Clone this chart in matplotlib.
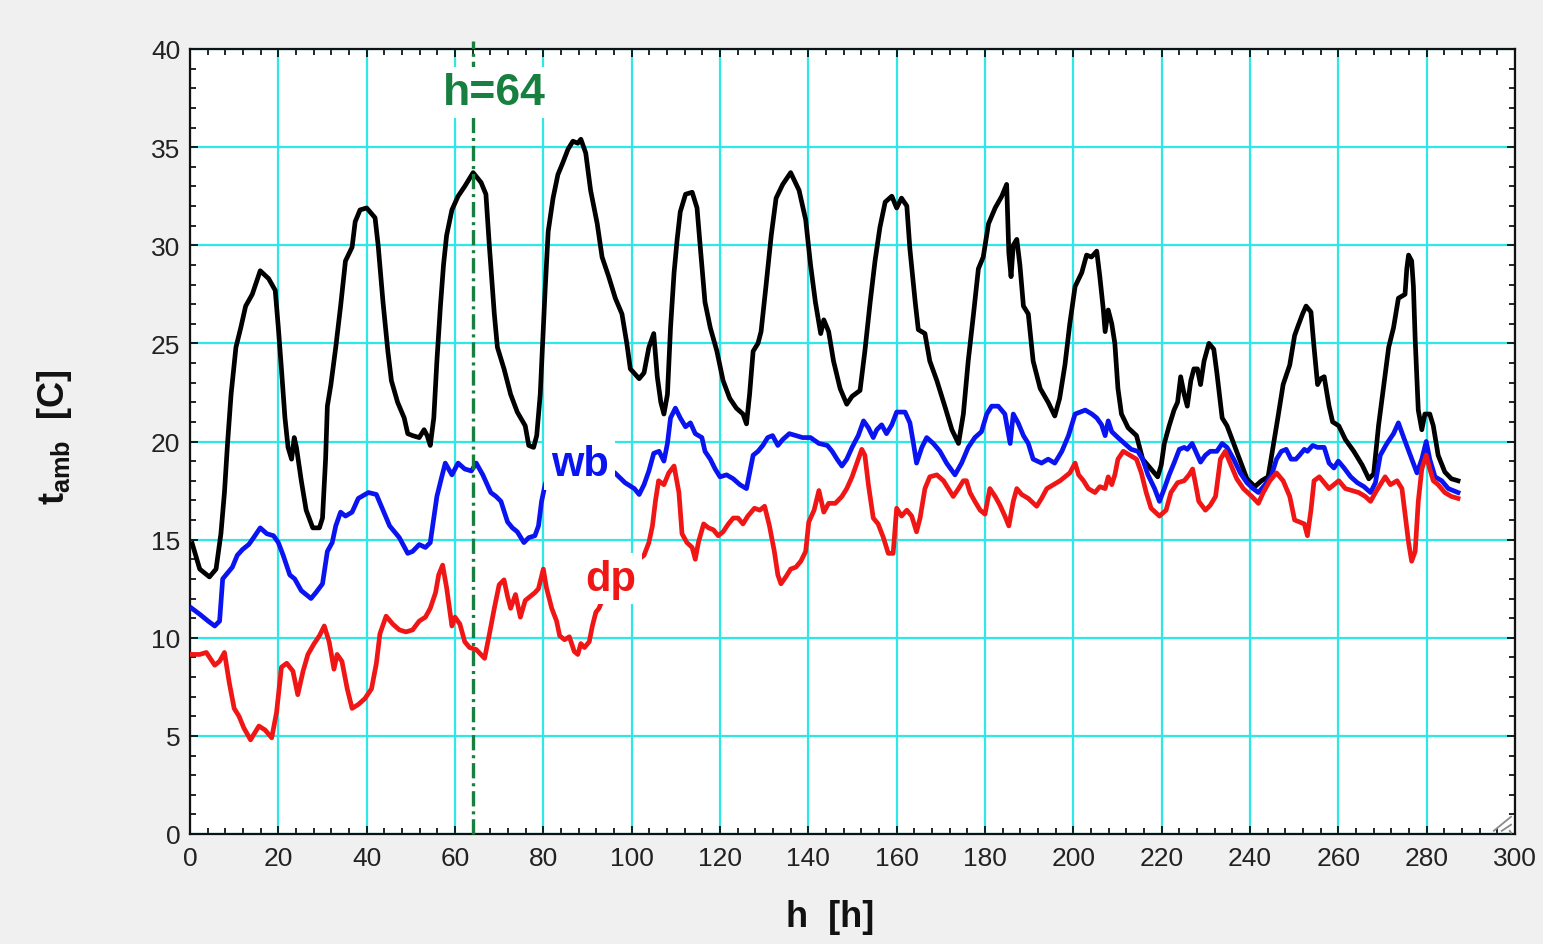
import matplotlib
matplotlib.use("Agg")
import matplotlib.pyplot as plt
import numpy as np

plt.rcParams['font.family'] = ['Liberation Sans', 'DejaVu Sans']
plt.rcParams['mathtext.fontset'] = 'custom'
plt.rcParams['mathtext.bf'] = 'Liberation Sans:bold'
plt.rcParams['mathtext.rm'] = 'Liberation Sans:bold'
plt.rcParams['lines.scale_dashes'] = False

# ---------------- data ----------------
h_db = [0.5, 2.2, 4.4, 5.9, 7.0, 7.8, 8.5, 9.3, 10.4, 11.5, 12.6, 14.1, 15.9, 17.8, 19.3, 20.0, 20.7, 21.5,
        22.2, 23.0, 23.6, 24.1, 25.2, 26.3, 27.8, 29.3, 30.0, 30.7, 31.1, 31.9, 33.0, 34.1, 35.2, 36.7, 37.4,
        38.5, 40.0, 41.9, 42.6, 43.7, 44.8, 45.6, 47.0, 48.5, 49.3, 50.4, 51.9, 53.0, 53.7, 54.4, 55.2, 55.9,
        56.7, 57.4, 58.1, 59.3, 60.7, 62.2, 64.1, 65.9, 67.0, 67.8, 68.9, 69.6, 71.1, 72.6, 74.1, 75.9, 76.7,
        77.8, 78.5, 79.3, 80.0, 80.4, 81.1, 82.2, 83.3, 84.4, 85.6, 86.7, 87.8, 88.5, 89.6, 90.7, 92.2, 93.3,
        94.8, 96.3, 97.8, 98.9, 99.7, 101.7, 102.8, 103.9, 105.0, 105.8, 106.6, 107.3, 108.1, 108.8, 109.6,
        110.3, 111.0, 112.2, 113.7, 114.8, 115.5, 116.6, 117.8, 119.3, 120.7, 122.2, 123.7, 125.2, 126.0,
        126.7, 127.5, 128.6, 129.3, 130.4, 131.6, 132.7, 134.2, 136.0, 137.9, 139.4, 140.5, 141.6, 142.8,
        143.5, 144.6, 145.7, 147.2, 148.7, 149.9, 151.7, 152.8, 154.0, 155.1, 156.2, 157.4, 158.9, 160.0,
        161.1, 162.3, 163.0, 164.2, 164.9, 166.4, 167.5, 169.1, 170.9, 172.5, 174.0, 175.1, 176.2, 177.4,
        178.5, 179.6, 180.8, 182.3, 183.8, 184.9, 185.4, 185.9, 186.4, 187.2, 187.9, 188.7, 189.8, 190.9,
        192.5, 194.3, 195.8, 196.9, 198.1, 199.2, 200.4, 201.9, 203.0, 204.1, 205.3, 206.0, 206.8, 207.2,
        207.9, 208.7, 209.4, 210.1, 210.9, 212.4, 214.3, 215.7, 217.2, 219.1, 219.9, 220.6, 221.7, 222.8,
        223.6, 224.3, 225.1, 225.8, 226.6, 227.3, 228.1, 228.8, 229.6, 230.7, 231.8, 232.5, 233.7, 234.8,
        236.3, 237.8, 239.3, 241.1, 242.6, 244.1, 245.2, 246.3, 247.5, 249.0, 250.1, 250.9, 251.9, 252.7,
        253.8, 254.5, 255.3, 256.0, 256.8, 257.9, 258.7, 260.1, 261.6, 263.5, 265.4, 266.9, 268.0, 269.1,
        270.3, 271.4, 272.5, 273.6, 275.1, 275.5, 275.9, 276.6, 277.0, 277.4, 278.1, 278.9, 279.6, 280.7,
        281.5, 282.6, 284.1, 285.6, 287.1]
t_db = [14.8, 13.5, 13.1, 13.5, 15.3, 17.4, 19.9, 22.4, 24.8, 25.8, 26.9, 27.5, 28.7, 28.3, 27.7, 25.8, 23.7, 21.2,
        19.7, 19.1, 20.2, 19.7, 18.0, 16.5, 15.6, 15.6, 16.1, 19.1, 21.8, 22.9, 24.8, 26.9, 29.2, 29.9, 31.2,
        31.8, 31.9, 31.4, 30.0, 27.1, 24.6, 23.1, 22.0, 21.2, 20.4, 20.3, 20.2, 20.6, 20.3, 19.8, 21.2, 24.1,
        26.9, 29.0, 30.5, 31.8, 32.5, 33.0, 33.7, 33.2, 32.6, 29.9, 26.5, 24.8, 23.7, 22.4, 21.5, 20.8, 19.8,
        19.7, 20.3, 22.4, 25.8, 27.7, 30.7, 32.4, 33.6, 34.2, 34.9, 35.3, 35.2, 35.4, 34.7, 32.8, 31.1, 29.4,
        28.4, 27.3, 26.5, 25.0, 23.7, 23.2, 23.5, 24.8, 25.5, 23.3, 22.0, 21.4, 22.4, 25.8, 28.6,
        30.3, 31.7, 32.6, 32.7, 31.9, 30.0, 27.1, 25.8, 24.6, 23.1, 22.2, 21.7, 21.4, 20.9,
        22.4, 24.6, 25.0, 25.6, 27.9, 30.5, 32.4, 33.1, 33.7, 32.8, 31.3, 29.0, 27.1, 25.5,
        26.2, 25.6, 24.1, 22.7, 21.9, 22.3, 22.6, 24.6, 27.1, 29.2, 30.9, 32.2, 32.5, 31.9,
        32.4, 32.0, 29.8, 27.1, 25.7, 25.5, 24.1, 23.1, 21.8, 20.6, 19.9, 21.4, 24.1, 26.5,
        28.8, 29.4, 31.1, 31.9, 32.5, 33.1, 29.6, 28.4, 30.0, 30.3, 29.0, 26.9, 26.5, 24.1,
        22.7, 22.0, 21.3, 22.2, 23.9, 26.0, 27.9, 28.6, 29.5, 29.4, 29.7, 28.4, 26.7, 25.6,
        26.7, 26.0, 25.0, 22.7, 21.4, 20.7, 20.3, 19.1, 18.7, 18.2, 18.8, 19.9, 20.8, 21.6,
        22.0, 23.3, 22.4, 21.8, 23.1, 23.7, 23.7, 22.9, 24.1, 25.0, 24.7, 23.5, 21.2, 20.8,
        19.9, 19.0, 18.1, 17.7, 18.0, 18.2, 19.7, 21.2, 22.9, 23.9, 25.4, 25.9, 26.5, 26.9,
        26.6, 24.8, 22.9, 23.2, 23.3, 21.8, 21.0, 20.8, 20.1, 19.5, 18.8, 18.1, 18.35, 20.8,
        22.9, 24.8, 25.8, 27.3, 27.5, 28.8, 29.5, 29.2, 27.9, 25.2, 21.6, 20.6, 21.4, 21.4,
        20.8, 19.3, 18.45, 18.1, 18.0]

h_wb = [0.4, 2.2, 4.1, 5.6, 6.7, 7.4, 8.5, 9.6, 10.7, 11.9, 13.3, 14.4, 15.9, 17.4, 18.9, 20.0, 21.1, 22.6,
        23.7, 25.2, 27.4, 28.5, 30.0, 31.1, 32.2, 33.0, 34.1, 35.2, 36.7, 38.1, 40.4, 42.2, 43.7, 45.2, 47.4,
        49.3, 50.4, 51.9, 53.3, 54.4, 55.2, 55.9, 57.0, 57.8, 59.3, 60.7, 62.2, 63.7, 64.8, 66.3, 68.1, 69.3,
        70.4, 71.9, 73.0, 74.1, 75.6, 76.7, 78.1, 78.9, 79.6, 80.4, 82.0, 84.0, 86.0, 88.0, 90.0, 92.0, 94.0,
        96.2, 98.5, 100.6, 101.7, 102.8, 103.9, 105.0, 106.2, 107.3, 108.1, 108.8, 109.9, 111.0, 112.2, 113.3,
        114.4, 115.9, 116.6, 117.8, 118.9, 120.0, 121.5, 123.0, 124.5, 126.0, 126.7, 127.5, 128.6, 129.7,
        130.8, 131.9, 133.1, 134.2, 135.7, 137.2, 138.7, 140.5, 142.4, 144.3, 145.4, 146.5, 147.6, 148.7,
        149.9, 151.3, 152.5, 153.6, 154.7, 155.5, 156.6, 157.7, 158.9, 160.0, 161.9, 163.0, 163.8, 164.5,
        165.7, 166.8, 168.3, 169.8, 171.3, 173.2, 174.7, 176.2, 177.7, 179.2, 180.4, 181.5, 183.0, 184.5,
        185.7, 186.4, 187.5, 188.7, 189.8, 190.9, 192.8, 194.3, 195.8, 197.4, 198.9, 200.4, 202.7, 204.2,
        205.3, 206.4, 207.2, 207.9, 208.7, 210.1, 211.6, 213.1, 214.6, 215.7, 216.9, 218.4, 219.5, 220.6,
        221.7, 222.8, 224.0, 225.1, 225.8, 226.9, 227.7, 228.8, 229.9, 231.0, 232.5, 233.7, 234.8, 236.3,
        237.8, 239.3, 240.7, 241.9, 243.4, 244.9, 246.0, 247.1, 248.2, 249.3, 250.4, 251.2, 252.3, 253.0,
        254.2, 255.3, 256.8, 257.9, 259.0, 260.0, 261.3, 262.8, 264.3, 265.8, 267.3, 268.4, 269.5, 271.0,
        272.5, 273.6, 274.8, 276.3, 277.8, 278.9, 279.9, 280.7, 281.9, 283.4, 284.9, 287.1]
t_wb = [11.5, 11.2, 10.85, 10.6, 10.85, 13.0, 13.3, 13.6, 14.2, 14.5, 14.75, 15.1, 15.6, 15.3, 15.2, 14.85, 14.2, 13.2,
        13.0, 12.4, 12.0, 12.3, 12.75, 14.4, 14.85, 15.7, 16.4, 16.2, 16.4, 17.1, 17.4, 17.3, 16.5, 15.7, 15.1,
        14.3, 14.4, 14.75, 14.6, 14.85, 16.1, 17.2, 18.2, 18.9, 18.3, 18.9, 18.6, 18.5, 18.9, 18.3, 17.4, 17.2,
        16.95, 15.9, 15.6, 15.4, 14.85, 15.1, 15.2, 15.7, 16.95, 17.8, 18.7, 19.2, 19.4, 19.4, 19.3, 19.0, 18.7,
        18.4, 17.9, 17.6, 17.3, 17.8, 18.5, 19.4, 19.5, 19.0, 19.9, 21.2, 21.7, 21.2, 20.75, 20.95,
        20.4, 20.2, 19.5, 19.1, 18.6, 18.2, 18.3, 18.1, 17.8, 17.6, 18.4, 19.3, 19.5, 19.8,
        20.2, 20.3, 19.8, 20.1, 20.4, 20.3, 20.2, 20.2, 19.9, 19.8, 19.5, 19.1, 18.75, 19.1,
        19.7, 20.3, 21.05, 20.7, 20.2, 20.6, 20.85, 20.4, 20.85, 21.5, 21.5, 20.95, 19.9, 18.9,
        19.7, 20.2, 19.9, 19.5, 18.9, 18.3, 18.9, 19.7, 20.2, 20.5, 21.4, 21.8, 21.8, 21.4,
        19.9, 21.4, 20.95, 20.3, 19.9, 19.1, 18.9, 19.1, 18.9, 19.5, 20.3, 21.4, 21.6, 21.4,
        21.2, 20.85, 20.3, 21.05, 20.5, 20.2, 19.9, 19.6, 19.5, 19.1, 18.3, 17.6, 16.95, 17.6,
        18.3, 18.9, 19.6, 19.7, 19.6, 19.9, 19.5, 18.95, 19.3, 19.5, 19.5, 19.9, 19.7, 19.1,
        18.4, 17.9, 17.6, 17.4, 17.8, 18.3, 19.1, 19.5, 19.6, 19.1, 19.1, 19.3, 19.6, 19.5,
        19.8, 19.7, 19.7, 18.9, 18.65, 19.0, 18.65, 18.2, 17.9, 17.7, 17.4, 17.9, 19.3, 19.9,
        20.4, 20.95, 20.2, 19.3, 18.4, 19.1, 20.0, 19.1, 18.2, 18.0, 17.6, 17.4]

h_dp = [0.4, 2.2, 3.7, 5.6, 6.7, 7.8, 8.9, 10.0, 11.1, 12.2, 13.7, 15.6, 17.0, 18.5, 19.6, 20.7, 21.9, 23.3,
        24.4, 25.6, 26.7, 28.1, 29.3, 30.4, 31.5, 32.6, 33.3, 34.4, 35.6, 36.7, 38.1, 39.6, 41.1, 42.2, 43.0,
        44.4, 45.9, 47.4, 48.9, 50.4, 51.9, 53.3, 54.4, 55.6, 56.3, 57.2, 58.1, 59.3, 60.0, 61.1, 62.2, 63.3,
        64.8, 66.7, 67.8, 68.9, 70.0, 71.1, 71.9, 72.6, 73.7, 74.8, 75.9, 77.0, 78.1, 78.9, 80.0, 80.7, 81.9,
        83.0, 83.7, 84.8, 85.9, 87.0, 87.8, 88.5, 89.3, 90.4, 91.1, 91.9, 92.6, 93.3, 95.0, 97.0, 99.0, 101.0,
        102.8, 103.9, 104.7, 105.4, 106.1, 107.3, 108.4, 109.6, 110.7, 111.4, 112.5, 113.7, 114.4, 115.1,
        116.3, 117.4, 118.5, 119.6, 120.7, 121.9, 123.0, 124.1, 125.2, 126.3, 127.8, 129.0, 130.1, 131.2,
        132.3, 133.1, 133.8, 134.9, 136.0, 137.2, 138.3, 139.4, 140.1, 141.3, 142.4, 143.5, 144.6, 146.1,
        147.6, 148.7, 149.9, 151.3, 152.1, 152.8, 153.6, 154.7, 155.8, 157.0, 158.1, 159.2, 160.0, 161.1,
        162.3, 163.4, 164.5, 165.3, 166.4, 167.5, 169.1, 170.6, 171.7, 172.8, 174.0, 175.1, 175.8, 176.6,
        177.7, 178.9, 180.0, 181.1, 182.3, 183.4, 184.5, 185.4, 186.4, 187.2, 188.3, 189.8, 191.7, 192.8,
        194.0, 195.5, 197.0, 198.1, 199.2, 200.4, 201.2, 202.3, 203.4, 204.9, 206.0, 207.2, 207.9, 208.7,
        209.4, 210.1, 211.3, 212.8, 214.3, 215.4, 216.5, 217.6, 219.5, 221.0, 222.1, 223.6, 225.1, 226.2,
        227.0, 227.7, 228.4, 229.9, 231.0, 232.2, 233.3, 234.4, 235.5, 237.0, 238.5, 240.4, 241.9, 243.0,
        244.5, 246.0, 247.5, 249.0, 250.1, 251.2, 252.3, 253.0, 253.8, 254.5, 255.7, 256.8, 257.9, 259.0,
        260.1, 261.6, 263.1, 264.6, 266.1, 267.3, 268.4, 269.5, 270.6, 271.8, 273.3, 274.4, 275.1, 275.9,
        276.6, 277.4, 278.1, 278.9, 279.9, 280.7, 281.5, 282.6, 284.1, 285.6, 287.1]
t_dp = [9.15, 9.15, 9.25, 8.6, 8.8, 9.25, 7.7, 6.4, 6.0, 5.4, 4.8, 5.5, 5.3, 4.9, 6.2, 8.5, 8.7, 8.3,
        7.1, 8.3, 9.15, 9.7, 10.1, 10.6, 9.8, 8.4, 9.15, 8.8, 7.4, 6.4, 6.6, 6.9, 7.4, 8.7, 10.2,
        11.1, 10.7, 10.4, 10.3, 10.4, 10.85, 11.05, 11.5, 12.3, 13.2, 13.7, 12.55, 10.6, 11.05, 10.7, 9.8, 9.5,
        9.4, 8.95, 10.2, 11.5, 12.7, 12.95, 12.1, 11.5, 12.2, 11.05, 11.9, 12.1, 12.3, 12.5, 13.5, 12.55, 11.5,
        10.85, 10.1, 9.9, 10.05, 9.3, 9.15, 9.7, 9.5, 9.8, 10.6, 11.3, 11.5, 11.9, 12.4, 12.9, 13.4, 13.9,
        14.2, 14.85, 15.7, 17.0, 18.0, 17.8, 18.4, 18.75, 17.4, 15.3, 14.85, 14.6, 14.0, 14.85,
        15.8, 15.6, 15.5, 15.2, 15.4, 15.8, 16.1, 16.1, 15.8, 16.2, 16.6, 16.5, 16.7, 15.7,
        14.4, 13.2, 12.75, 13.1, 13.5, 13.6, 13.9, 14.4, 15.9, 16.5, 17.5, 16.4, 16.85, 16.85,
        17.2, 17.6, 18.2, 19.1, 19.6, 19.3, 17.8, 16.1, 15.8, 15.1, 14.3, 14.3, 16.6, 16.2,
        16.5, 16.2, 15.4, 16.1, 17.6, 18.2, 18.3, 18.0, 17.6, 17.2, 17.6, 18.0, 18.0, 17.4,
        16.95, 16.5, 16.3, 17.6, 17.2, 16.75, 16.2, 15.7, 16.95, 17.6, 17.3, 17.1, 16.7, 17.1,
        17.6, 17.8, 18.0, 18.2, 18.4, 18.9, 18.3, 18.0, 17.6, 17.4, 17.7, 17.6, 18.2, 17.8,
        18.3, 19.1, 19.5, 19.3, 19.1, 18.4, 17.4, 16.6, 16.2, 16.5, 17.4, 17.9, 18.0, 18.3,
        18.6, 17.8, 16.95, 16.5, 16.75, 17.2, 19.1, 19.5, 18.9, 18.1, 17.6, 17.2, 16.85, 17.4,
        18.0, 18.4, 18.0, 17.2, 16.0, 15.9, 15.8, 15.2, 16.5, 18.0, 18.2, 17.9, 17.6, 17.8,
        18.0, 17.6, 17.5, 17.4, 17.2, 16.95, 17.4, 17.8, 18.2, 17.8, 18.0, 17.6, 16.3, 14.85,
        13.9, 14.4, 16.95, 18.6, 19.3, 18.6, 18.0, 17.8, 17.4, 17.2, 17.1]

h_marker = 64
x_ticks = list(range(0, 301, 20))
y_ticks = list(range(0, 41, 5))

# ---------------- figure ----------------
W, H = 1543, 945
fig = plt.figure(figsize=(W / 100, H / 100), dpi=100, facecolor='#f0f0f0')
ax = fig.add_axes([190 / W, 1 - 835 / H, (1515 - 190) / W, (835 - 50) / H])
ax.set_facecolor('white')

ax.set_xlim(0, 300)
ax.set_ylim(0, 40)
ax.set_xticks(x_ticks)
ax.set_yticks(y_ticks)
ax.set_xticks(np.arange(0, 301, 4), minor=True)
ax.set_yticks(np.arange(0, 41, 1), minor=True)
ax.tick_params(which='both', direction='in', top=True, right=True, colors='black',
               labelcolor='#222222')
ax.tick_params(which='major', length=6, width=1.2, labelsize=19)
ax.tick_params(axis='x', which='major', pad=9)
ax.tick_params(axis='y', which='major', pad=7)
ax.tick_params(which='minor', length=4, width=1.2)
for s in ax.spines.values():
    s.set_linewidth(1.6)
    s.set_color('#111111')

ax.set_axisbelow(True)
ax.grid(True, which='major', color='#2ee8e8', linewidth=1.6)

ax.plot(h_db, t_db, color='black', lw=3.4, zorder=3, solid_joinstyle='round')
ax.plot(h_wb, t_wb, color='#0a14f0', lw=3.4, zorder=3, solid_joinstyle='round')
ax.plot(h_dp, t_dp, color='#f01616', lw=3.4, zorder=3, solid_joinstyle='round')

ax.plot([h_marker, h_marker], [0, 40.4], color='#178040', lw=2.4, clip_on=False,
        dashes=(11, 3.5, 2.2, 3.5), zorder=4)

ax.text(68.8, 37.2, 'h=64', color='#178040', fontsize=32, fontweight='bold',
        ha='center', va='baseline', zorder=6,
        bbox=dict(facecolor='white', edgecolor='none', pad=4))
ax.text(88.2, 18.3, 'wb', color='#0a14f0', fontsize=30, fontweight='bold',
        ha='center', va='baseline', zorder=6,
        bbox=dict(facecolor='white', edgecolor='none', pad=4.5))
ax.text(95.3, 12.45, 'dp', color='#f01616', fontsize=30, fontweight='bold',
        ha='center', va='baseline', zorder=6,
        bbox=dict(facecolor='white', edgecolor='none', pad=4))

# resize grip decoration
for k in range(3):
    off = k * 0.006
    ax.plot([0.984 + off, 0.997], [0.004, 0.022 - off * 1.7], transform=ax.transAxes,
            color='#8a8a8a', lw=1.3, clip_on=False, zorder=7)

fig.text(830 / W, 1 - 918 / H, 'h  [h]', fontsize=26, fontweight='bold',
         ha='center', va='center', color='#111111')
fig.text(54 / W, 1 - 437 / H, r'$\mathbf{t}_{\mathbf{amb}}$  [C]', fontsize=26,
         fontweight='bold', rotation=90, ha='center', va='center', color='#111111')

fig.savefig('out.png', dpi=100, facecolor=fig.get_facecolor())
